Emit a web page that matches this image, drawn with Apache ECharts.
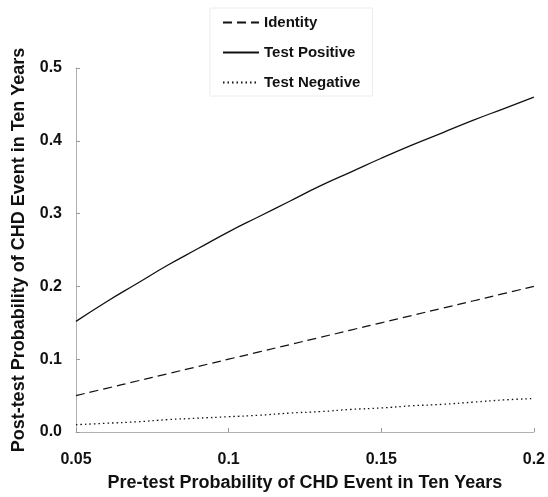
<!DOCTYPE html>
<html>
<head>
<meta charset="utf-8">
<script src="https://cdn.jsdelivr.net/npm/echarts@6/dist/echarts.min.js"></script>
<style>
  html, body { margin: 0; padding: 0; background: #fff; }
  #chart { width: 548px; height: 497px; }
</style>
</head>
<body>
<div id="chart"></div>
<script>
// pre-test probability (x)
const preTest = [0.05, 0.06, 0.07, 0.08, 0.09, 0.10, 0.11, 0.12, 0.13, 0.14, 0.15, 0.16, 0.17, 0.18, 0.19, 0.20];
// post-test probability
const identity = [0.05, 0.06, 0.07, 0.08, 0.09, 0.10, 0.11, 0.12, 0.13, 0.14, 0.15, 0.16, 0.17, 0.18, 0.19, 0.20];
const testPositive = [0.152, 0.179, 0.204, 0.229, 0.252, 0.275, 0.296, 0.317, 0.338, 0.357, 0.376, 0.394, 0.411, 0.428, 0.444, 0.460];
const testNegative = [0.010, 0.012, 0.014, 0.017, 0.019, 0.021, 0.023, 0.026, 0.028, 0.031, 0.033, 0.036, 0.038, 0.041, 0.044, 0.046];
const seriesNames = ['Identity', 'Test Positive', 'Test Negative'];

const font = '"Liberation Sans", Arial, sans-serif';
const pair = (ys) => preTest.map((x, i) => [x, ys[i]]);

const chart = echarts.init(document.getElementById('chart'));
chart.setOption({
  backgroundColor: '#fff',
  animation: false,
  grid: { left: 76, right: 14, top: 68, bottom: 54 },
  legend: {
    show: true,
    orient: 'vertical',
    left: 210,
    top: 8,
    padding: [7, 12, 6, 12],
    borderColor: '#ececec',
    borderWidth: 1,
    itemWidth: 36,
    itemHeight: 14,
    itemGap: 15,
    itemStyle: { opacity: 0 },
    textStyle: { fontFamily: font, fontWeight: 'bold', fontSize: 15, color: '#111' },
    data: seriesNames
  },
  xAxis: {
    type: 'value',
    min: 0.05,
    max: 0.2,
    interval: 0.05,
    name: 'Pre-test Probability of CHD Event in Ten Years',
    nameLocation: 'middle',
    nameGap: 42,
    nameTextStyle: { fontFamily: font, fontWeight: 'bold', fontSize: 18, color: '#111' },
    axisLine: { show: true, lineStyle: { color: '#b0b0b0', width: 1 } },
    axisTick: { show: true, inside: true, length: 4, lineStyle: { color: '#999' } },
    splitLine: { show: false },
    axisLabel: {
      fontFamily: font, fontWeight: 'bold', fontSize: 16, color: '#111', margin: 20,
      formatter: (v) => String(+v.toFixed(2))
    }
  },
  yAxis: {
    type: 'value',
    min: 0,
    max: 0.5,
    interval: 0.1,
    name: 'Post-test Probability of CHD Event in Ten Years',
    nameLocation: 'middle',
    nameGap: 48,
    nameTextStyle: { fontFamily: font, fontWeight: 'bold', fontSize: 18, color: '#111' },
    axisLine: { show: true, lineStyle: { color: '#b0b0b0', width: 1 } },
    axisTick: { show: true, inside: true, length: 4, lineStyle: { color: '#999' } },
    splitLine: { show: false },
    axisLabel: {
      fontFamily: font, fontWeight: 'bold', fontSize: 16, color: '#111', margin: 14,
      formatter: (v) => v.toFixed(1)
    }
  },
  series: [
    {
      name: seriesNames[0], type: 'line', data: pair(identity), symbol: 'none', smooth: true,
      lineStyle: { color: '#111', width: 1.2, type: [9, 5] }, itemStyle: { color: '#111' }
    },
    {
      name: seriesNames[1], type: 'line', data: pair(testPositive), symbol: 'none', smooth: true,
      lineStyle: { color: '#111', width: 1.3, type: 'solid' }, itemStyle: { color: '#111' }
    },
    {
      name: seriesNames[2], type: 'line', data: pair(testNegative), symbol: 'none', smooth: true,
      lineStyle: { color: '#111', width: 1.3, type: [1.5, 3] }, itemStyle: { color: '#111' }
    }
  ]
});
</script>
</body>
</html>
